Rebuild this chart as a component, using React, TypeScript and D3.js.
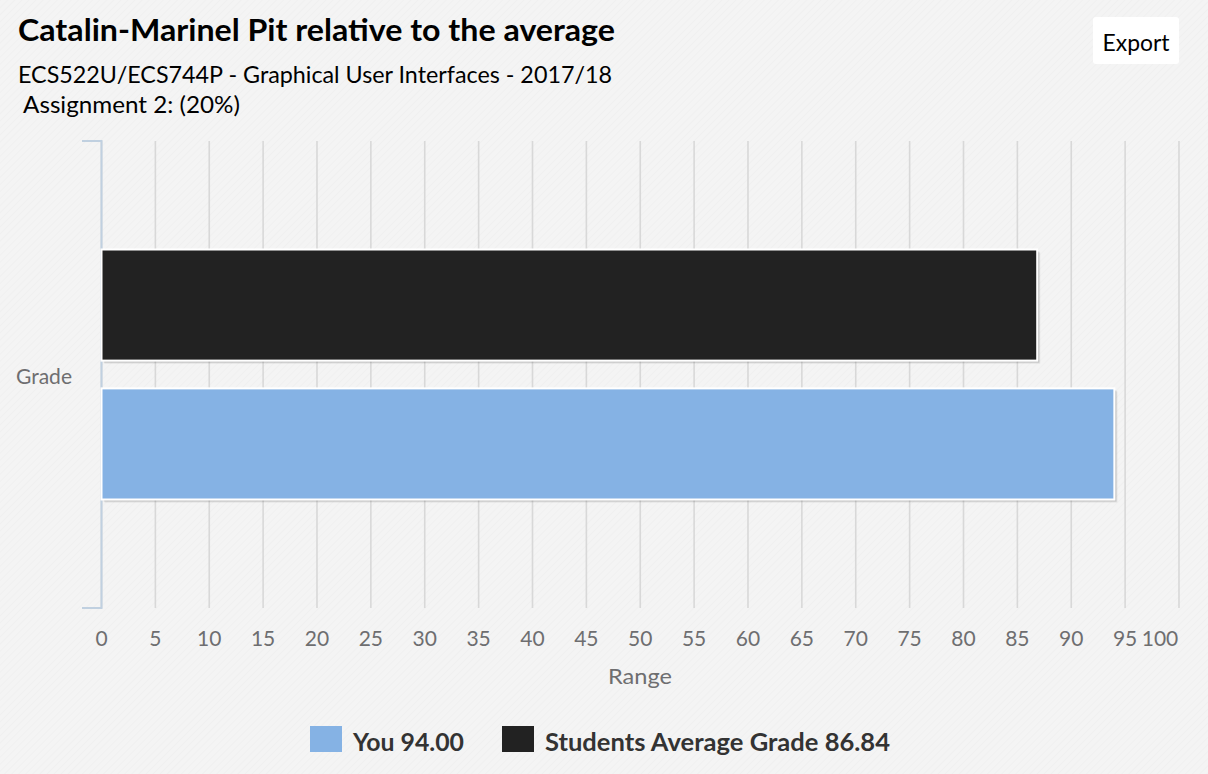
import React from "react";
import * as d3 from "d3";

const title = "Catalin-Marinel Pit relative to the average";
const subtitleLines = ["ECS522U/ECS744P - Graphical User Interfaces - 2017/18", " Assignment 2: (20%)"];
const categories = ["Grade"];
const seriesNames = ["Students Average Grade", "You"];
const seriesValues = [86.84, 94.0];
const seriesColors = ["#222222", "#85b2e4"];
const legendOrder = [1, 0];
const xTicks = d3.range(0, 101, 5);
const xTitle = "Range";

const W = 1208;
const H = 774;
const FONT = "Lato, 'Open Sans', sans-serif";

export default function App() {
  const x = d3.scaleLinear().domain([0, 100]).range([101.5, 1179]);
  const top = 141;
  const bottom = 608;
  const yCat = d3.scaleBand().domain(categories).range([top, bottom]).paddingInner(0).paddingOuter(0.434);
  const ySer = d3.scaleBand().domain(seriesNames).range([0, yCat.bandwidth()]).paddingInner(0.2);

  return (
    <svg width={W} height={H} style={{ position: "absolute", left: 0, top: 0 }} fontFamily={FONT}>
      <defs>
        <pattern id="tex" width="5" height="5" patternUnits="userSpaceOnUse" patternTransform="rotate(45)">
          <rect width="5" height="5" fill="#f4f4f4" />
          <line x1="0" y1="0" x2="0" y2="5" stroke="#ededed" strokeWidth="1" />
        </pattern>
      </defs>
      <rect width={W} height={H} fill="url(#tex)" />

      <text x={18} y={41} fontSize={31} fontWeight="bold" fill="#000" textLength={597} lengthAdjust="spacingAndGlyphs">{title}</text>
      <text x={18} y={83} fontSize={24} fontWeight={400} fill="#000" textLength={594} lengthAdjust="spacingAndGlyphs">{subtitleLines[0]}</text>
      <text x={23} y={113} fontSize={24} fontWeight={400} fill="#000" textLength={217} lengthAdjust="spacingAndGlyphs">{subtitleLines[1].trim()}</text>

      <rect x={1093} y={17} width={86} height={47} rx={3} fill="#ffffff" />
      <text x={1136} y={51} fontSize={24} textAnchor="middle" fill="#000" textLength={67} lengthAdjust="spacingAndGlyphs">Export</text>

      {xTicks.map((t) => (
        <line key={"g" + t} x1={x(t)} x2={x(t)} y1={top} y2={bottom} stroke="#d8d8d8" strokeWidth={1.6} />
      ))}

      <path d={`M82,${top}H101.5V${bottom}H82`} fill="none" stroke="#c0d0e0" strokeWidth={2} />

      {categories.map((c) => (
        <text key={c} x={72} y={(yCat(c) as number) + yCat.bandwidth() / 2 + 9} fontSize={21} fontWeight={400} textAnchor="end" fill="#6e6e70" textLength={56} lengthAdjust="spacingAndGlyphs">{c}</text>
      ))}

      {categories.map((c) =>
        seriesNames.map((s, i) => {
          const y0 = (yCat(c) as number) + (ySer(s) as number);
          const w = x(seriesValues[i]) - x(0);
          return (
            <g key={s}>
              <rect x={x(0) + 3} y={y0 + 3} width={w} height={ySer.bandwidth()} fill="#000" opacity={0.08} />
              <rect x={x(0) + 2} y={y0 + 2} width={w} height={ySer.bandwidth()} fill="#000" opacity={0.12} />
              <rect x={x(0)} y={y0} width={w} height={ySer.bandwidth()} fill={seriesColors[i]} stroke="#ffffff" strokeWidth={2} />
            </g>
          );
        })
      )}

      {xTicks.map((t) => (
        <text key={"l" + t} x={t === 100 ? 1160 : x(t)} y={646} fontSize={21} fontWeight={400} textAnchor="middle" fill="#6e6e70">{t}</text>
      ))}
      <text x={640} y={684} fontSize={22} fontWeight={400} textAnchor="middle" fill="#6e6e70" textLength={64} lengthAdjust="spacingAndGlyphs">{xTitle}</text>

      {legendOrder.map((i, k) => {
        const lx = k === 0 ? 310 : 502;
        const tw = k === 0 ? 111 : 345;
        return (
          <g key={"lg" + i}>
            <rect x={lx} y={726} width={32} height={26} fill={seriesColors[i]} />
            <text x={lx + 43} y={751} fontSize={25} fontWeight="bold" fill="#333333" textLength={tw} lengthAdjust="spacingAndGlyphs">
              {seriesNames[i] + " " + seriesValues[i].toFixed(2)}
            </text>
          </g>
        );
      })}
    </svg>
  );
}
